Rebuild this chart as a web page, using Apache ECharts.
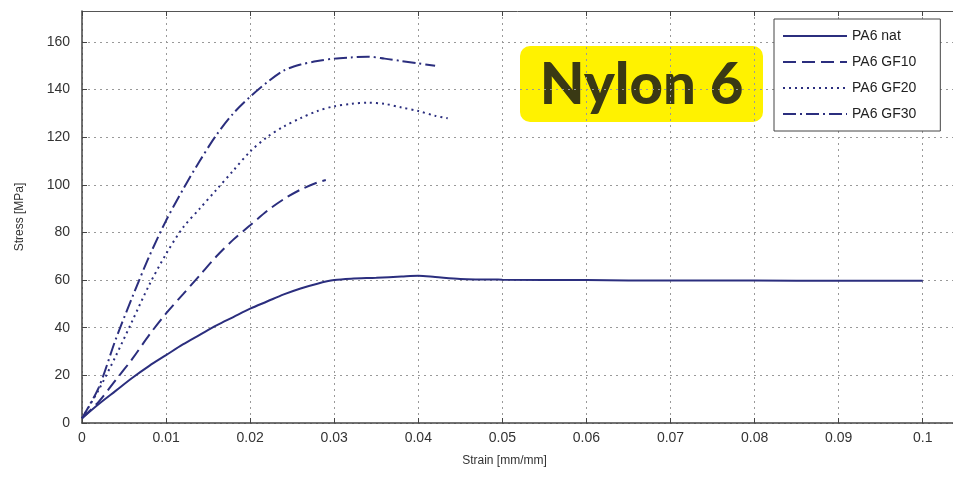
<!DOCTYPE html>
<html>
<head>
<meta charset="utf-8">
<script src="https://cdn.jsdelivr.net/npm/echarts@6/dist/echarts.min.js"></script>
<style>
html,body{margin:0;padding:0;background:#fff;}
#chart{width:953px;height:481px;}
</style>
</head>
<body>
<div id="chart"></div>
<script>
// Series names
var seriesNames = ['PA6 nat', 'PA6 GF10', 'PA6 GF20', 'PA6 GF30'];

// [strain, stress] pairs
var pa6Nat = [[0,2],[0.002,8],[0.004,13.5],[0.006,19],[0.008,24],[0.010,28.5],[0.012,33],[0.014,37],[0.016,41],[0.018,44.5],[0.020,48],[0.022,51],[0.024,54],[0.026,56.5],[0.028,58.5],[0.030,60],[0.032,60.6],[0.035,61],[0.038,61.5],[0.040,61.8],[0.042,61.3],[0.045,60.5],[0.050,60.2],[0.060,60],[0.070,59.8],[0.080,59.8],[0.090,59.7],[0.100,59.7]];
var pa6GF10 = [[0,2],[0.002,9],[0.004,18],[0.006,27],[0.008,37],[0.010,46],[0.012,54],[0.014,62],[0.016,70],[0.018,77],[0.020,83],[0.022,89],[0.024,94],[0.026,98],[0.028,101],[0.029,102]];
var pa6GF20 = [[0,2],[0.002,14],[0.004,28],[0.006,43],[0.008,58],[0.010,71],[0.012,82],[0.014,90],[0.016,98],[0.018,106],[0.020,114],[0.022,120],[0.024,124.5],[0.026,128],[0.028,131],[0.030,133],[0.032,134],[0.034,134.5],[0.036,134],[0.038,132.5],[0.040,131],[0.042,129],[0.0435,128]];
var pa6GF30 = [[0,2],[0.002,15],[0.004,35],[0.006,53],[0.008,70],[0.010,85],[0.012,98],[0.014,110],[0.016,121],[0.018,130],[0.020,137],[0.022,143],[0.024,148],[0.026,150.5],[0.028,152],[0.030,153],[0.032,153.5],[0.034,153.8],[0.036,153],[0.038,152],[0.040,151],[0.042,150]];

var xTitle = 'Strain [mm/mm]';
var yTitle = 'Stress [MPa]';
var badgeText = 'Nylon 6';

var lineColor = '#2b2e7e';
var font = "'Liberation Sans Narrow','Liberation Sans',Arial,sans-serif";

var chart = echarts.init(document.getElementById('chart'));

function mk(name, data, type) {
  return {
    name: name, type: 'line', data: data, symbol: 'none', showSymbol: false,
    smooth: 0.3,
    lineStyle: { color: lineColor, width: 2, type: type },
    itemStyle: { color: lineColor },
    z: 3
  };
}

var option = {
  animation: false,
  backgroundColor: '#fff',
  grid: { left: 82, top: 11, right: 0, bottom: 58, show: false },
  xAxis: [{
    type: 'value', min: 0, max: 0.1036, interval: 0.01,
    name: xTitle, nameLocation: 'middle', nameGap: 32,
    nameTextStyle: { color: '#333', fontSize: 12, fontFamily: font, padding: [0, 26, 0, 0] },
    axisLine: { show: true, lineStyle: { color: '#444', width: 1.5 } },
    axisTick: { show: true, inside: true, length: 5, lineStyle: { color: '#444' } },
    axisLabel: { color: '#333', fontSize: 14, fontFamily: font, margin: 8, showMaxLabel: false,
      formatter: function (v) { return String(+v.toFixed(2)); } },
    splitLine: { show: true, lineStyle: { color: '#999', type: [2, 4], width: 1 } }
  }, {
    type: 'value', position: 'top', min: 0, max: 0.1036, interval: 0.01,
    axisLine: { show: true, lineStyle: { color: '#555', width: 1 } },
    axisTick: { show: true, inside: true, length: 5, lineStyle: { color: '#444' } },
    axisLabel: { show: false }, splitLine: { show: false }
  }],
  yAxis: {
    type: 'value', min: 0, max: 173, interval: 20,
    name: yTitle, nameLocation: 'middle', nameGap: 56,
    nameTextStyle: { color: '#333', fontSize: 12, fontFamily: font },
    axisLine: { show: true, lineStyle: { color: '#444', width: 1.5 } },
    axisTick: { show: true, inside: true, length: 5, lineStyle: { color: '#444' } },
    axisLabel: { color: '#333', fontSize: 14, fontFamily: font, margin: 12, showMaxLabel: false },
    splitLine: { show: true, lineStyle: { color: '#999', type: [2, 4], width: 1 } }
  },
  legend: {
    orient: 'vertical', left: 774, top: 19,
    data: seriesNames,
    itemWidth: 64, itemHeight: 14, itemGap: 12,
    padding: [10, 24, 10, 8],
    backgroundColor: '#fff', borderColor: '#444', borderWidth: 1,
    itemStyle: { opacity: 0 },
    textStyle: { color: '#222', fontSize: 14, fontFamily: font },
    z: 10
  },
  graphic: [{
    type: 'group', z: 20,
    children: [{
      type: 'rect', shape: { x: 520, y: 46, width: 243, height: 76, r: 10 },
      style: { fill: '#FFF200' }
    }, {
      type: 'text', x: 641.5, y: 85,
      style: { text: badgeText, fill: '#3a3914', font: "900 58px Lato, 'Noto Sans', sans-serif",
        textAlign: 'center', textVerticalAlign: 'middle' }
    }]
  }],
  series: [
    mk(seriesNames[0], pa6Nat, 'solid'),
    mk(seriesNames[1], pa6GF10, [13, 6]),
    mk(seriesNames[2], pa6GF20, [2, 4]),
    mk(seriesNames[3], pa6GF30, [13, 4, 2, 4])
  ]
};
chart.setOption(option);
</script>
</body>
</html>
